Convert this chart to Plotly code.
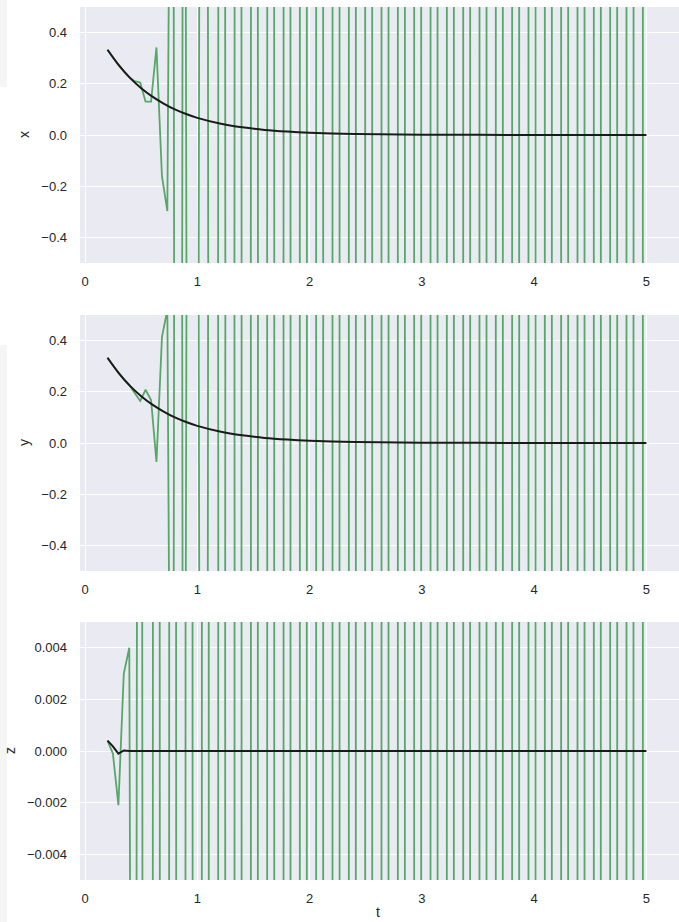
import plotly.graph_objects as go

# ---- data ----
t = [0.200, 0.248, 0.297, 0.345, 0.394, 0.442, 0.491, 0.539, 0.588, 0.636,
     0.685, 0.733, 0.782, 0.830, 0.879, 0.927, 0.976, 1.024, 1.073, 1.121,
     1.170, 1.218, 1.267, 1.315, 1.364, 1.412, 1.461, 1.509, 1.558, 1.606,
     1.655, 1.703, 1.752, 1.800, 1.848, 1.897, 1.945, 1.994, 2.042, 2.091,
     2.139, 2.188, 2.236, 2.285, 2.333, 2.382, 2.430, 2.479, 2.527, 2.576,
     2.624, 2.673, 2.721, 2.770, 2.818, 2.867, 2.915, 2.964, 3.012, 3.061,
     3.109, 3.158, 3.206, 3.255, 3.303, 3.352, 3.400, 3.448, 3.497, 3.545,
     3.594, 3.642, 3.691, 3.739, 3.788, 3.836, 3.885, 3.933, 3.982, 4.030,
     4.079, 4.127, 4.176, 4.224, 4.273, 4.321, 4.370, 4.418, 4.467, 4.515,
     4.564, 4.612, 4.661, 4.709, 4.758, 4.806, 4.855, 4.903, 4.952, 5.000]

x_num = [0.333, 0.303, 0.275, 0.25, 0.226, 0.21, 0.205, 0.13, 0.13, 0.342,
         -0.161, -0.297, 3, -12, 4, -5, -8, 2, 9,
         -10, -10, 20, -12, -12, 24, -15, -15, 30, -18, -18, 36, -22, -22, 44,
         -27, -27, 54, -33, -33, 66, -40, -40, 80, -48, -48, 96, -58, -58, 116,
         -70, -70, 140, -85, -85, 170, -100, -100, 200, -120, -120, 240,
         -145, -145, 290, -175, -175, 350, -210, -210, 420, -250, -250, 500,
         -300, -300, 600, -360, -360, 720, -430, -430, 860, -520, -520, 1040,
         -620, -620, 1240, -750, -750, 1500, -900, -900, 1800,
         -1100, -1100, 2200, -1300, -1300, 2600]

y_num = [0.333, 0.303, 0.275, 0.25, 0.227, 0.195, 0.164, 0.208, 0.168, -0.074,
         0.414, 0.52, -3, 12, -4, 5, 8, -2, -9,
         11, 11, -22, 13, 13, -26, 16, 16, -32, 19, 19, -38, 23, 23, -46,
         28, 28, -56, 34, 34, -68, 41, 41, -82, 50, 50, -100, 60, 60, -120,
         72, 72, -144, 87, 87, -174, 105, 105, -210, 125, 125, -250,
         150, 150, -300, 180, 180, -360, 215, 215, -430, 260, 260, -520,
         310, 310, -620, 370, 370, -740, 440, 440, -880, 530, 530, -1060,
         640, 640, -1280, 770, 770, -1540, 920, 920, -1840,
         1100, 1100, -2200, 1350, 1350, -2700]

z_num = [0.0004, -0.0001, -0.0021, 0.003, 0.004, -0.06, 0.1,
         -0.15, -0.15, 0.3, -0.2, -0.2, 0.4, -0.25, -0.25, 0.5, -0.3, -0.3, 0.6,
         -0.4, -0.4, 0.8, -0.5, -0.5, 1.0, -0.6, -0.6, 1.2, -0.75, -0.75, 1.5,
         -0.9, -0.9, 1.8, -1.1, -1.1, 2.2, -1.4, -1.4, 2.8, -1.7, -1.7, 3.4,
         -2, -2, 4, -2.5, -2.5, 5, -3, -3, 6, -3.7, -3.7, 7.4, -4.5, -4.5, 9,
         -5.5, -5.5, 11, -6.5, -6.5, 13, -8, -8, 16, -10, -10, 20, -12, -12, 24,
         -15, -15, 30, -18, -18, 36, -22, -22, 44, -27, -27, 54, -33, -33, 66,
         -40, -40, 80, -50, -50, 100, -60, -60, 120, -75, -75, 150]

t_exact = [0.2, 0.3, 0.4, 0.5, 0.6, 0.7, 0.8, 0.9, 1.0, 1.2, 1.4, 1.6, 1.8,
           2.0, 2.3, 2.6, 3.0, 3.5, 4.0, 4.5, 5.0]
x_exact = [0.333, 0.273, 0.223, 0.183, 0.150, 0.123, 0.100, 0.082, 0.067,
           0.045, 0.030, 0.020, 0.0136, 0.0091, 0.005, 0.0027, 0.0012,
           0.0005, 0.0002, 0.0001, 0.00002]
y_exact = [0.333, 0.273, 0.223, 0.183, 0.150, 0.123, 0.100, 0.082, 0.067,
           0.045, 0.030, 0.020, 0.0136, 0.0091, 0.005, 0.0027, 0.0012,
           0.0005, 0.0002, 0.0001, 0.00002]
t_zexact = [0.200, 0.248, 0.297, 0.345, 0.394, 5.0]
z_exact = [0.0004, 0.00018, -0.0001, 0.00002, 0.0, 0.0]

panels = [("x", x_num, t_exact, x_exact, [-0.5, 0.5],
           [-0.4, -0.2, 0.0, 0.2, 0.4], ".1f"),
          ("y", y_num, t_exact, y_exact, [-0.5, 0.5],
           [-0.4, -0.2, 0.0, 0.2, 0.4], ".1f"),
          ("z", z_num, t_zexact, z_exact, [-0.005, 0.005],
           [-0.004, -0.002, 0.0, 0.002, 0.004], ".3f")]
x_ticks = [0, 1, 2, 3, 4, 5]

# ---- layout geometry (pixels) ----
W, H = 679, 922
plot_left = 80
panel_px = [(7, 263), (315, 571), (622, 880)]
title_x_px = [24, 24, 10]

GREEN = "#55A868"
BLACK = "#1a1a1a"
FONT = "Liberation Sans, Arial, sans-serif"
TXT = "#262626"

fig = go.Figure()
layout = dict(width=W, height=H, margin=dict(l=0, r=0, t=0, b=0),
              paper_bgcolor="white", plot_bgcolor="#EAEAF2",
              showlegend=False, font=dict(family=FONT, size=13, color=TXT))
annotations = []

for i, (name, num, te, ex, yr, yt, fmt) in enumerate(panels):
    sfx = "" if i == 0 else str(i + 1)
    xa, ya = "x" + sfx, "y" + sfx
    fig.add_trace(go.Scatter(x=t, y=num, mode="lines", xaxis=xa, yaxis=ya,
                             line=dict(color=GREEN, width=1.8)))
    fig.add_trace(go.Scatter(x=te, y=ex, mode="lines", xaxis=xa, yaxis=ya,
                             line=dict(color=BLACK, width=2,
                                       shape="spline" if name != "z" else "linear")))
    top, bot = panel_px[i]
    layout["xaxis" + sfx] = dict(
        domain=[plot_left / W, 1], range=[-0.045, 5.29], anchor=ya,
        tickvals=x_ticks, ticktext=[str(v) for v in x_ticks],
        showgrid=True, gridcolor="white", gridwidth=1.2, zeroline=False,
        showline=False, ticks="", ticklabelstandoff=9,
        tickfont=dict(family=FONT, size=13, color=TXT), automargin=False)
    layout["yaxis" + sfx] = dict(
        domain=[1 - bot / H, 1 - top / H], range=yr, anchor=xa,
        tickvals=yt, tickformat=fmt,
        showgrid=True, gridcolor="white", gridwidth=1.2, zeroline=False,
        showline=False, ticks="", ticklabelstandoff=12,
        tickfont=dict(family=FONT, size=13, color=TXT), automargin=False)
    annotations.append(dict(text=name, xref="paper", yref="paper",
                            x=title_x_px[i] / W, y=1 - ((top + bot) / 2) / H,
                            showarrow=False, textangle=-90,
                            font=dict(family=FONT, size=14, color=TXT),
                            xanchor="center", yanchor="middle"))

annotations.append(dict(text="t", xref="paper", yref="paper",
                        x=378 / W, y=1 - 912 / H, showarrow=False,
                        font=dict(family=FONT, size=14, color=TXT),
                        xanchor="center", yanchor="middle"))
layout["annotations"] = annotations
layout["shapes"] = [
    dict(type="rect", xref="paper", yref="paper", x0=0, x1=7 / W,
         y0=1 - 87 / H, y1=1, fillcolor="#F5F5F5", line=dict(width=0),
         layer="below"),
    dict(type="rect", xref="paper", yref="paper", x0=0, x1=7 / W,
         y0=0, y1=1 - 345 / H, fillcolor="#F5F5F5", line=dict(width=0),
         layer="below"),
]
fig.update_layout(**layout)
fig.write_html("out.html", config={"displayModeBar": False},
               post_script="document.body.style.margin='0';"
                           "document.body.style.overflow='hidden';")
